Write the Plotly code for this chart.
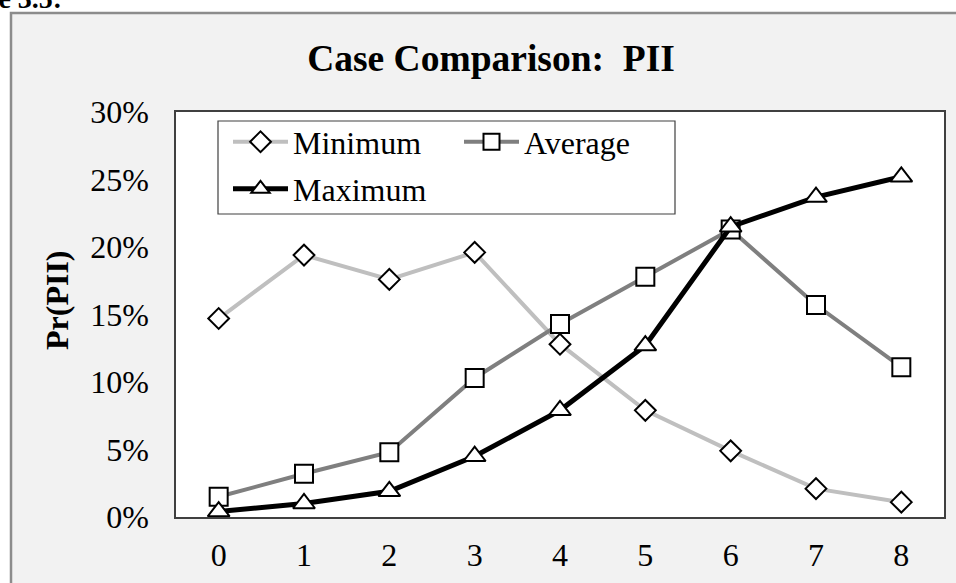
import plotly.graph_objects as go

# chart data
cases = ["0", "1", "2", "3", "4", "5", "6", "7", "8"]
minimum = [0.147, 0.194, 0.176, 0.196, 0.128, 0.079, 0.049, 0.021, 0.011]
average = [0.015, 0.032, 0.048, 0.103, 0.143, 0.178, 0.213, 0.157, 0.111]
maximum = [0.004, 0.010, 0.019, 0.045, 0.079, 0.127, 0.215, 0.237, 0.252]
y_ticks = [0, 0.05, 0.10, 0.15, 0.20, 0.25, 0.30]

W, H = 956, 583
L, R, T, B = 176, 12, 112, 66
PW, PH = W - L - R, H - T - B
FONT = "Liberation Serif"


def px(x):
    return (x - L) / PW


def py(y):
    return (H - B - y) / PH


fig = go.Figure()

series = [
    ("Minimum", minimum, "#bfbfbf", 4, "diamond", 16, "legend"),
    ("Average", average, "#7f7f7f", 4, "square", 18, "legend2"),
    ("Maximum", maximum, "#000000", 5, "triangle-up", 19, "legend3"),
]
for name, vals, col, lw, sym, size, leg in series:
    fig.add_trace(go.Scatter(
        x=list(range(len(cases))),
        y=vals,
        name=name,
        mode="lines+markers",
        line=dict(color=col, width=lw),
        marker=dict(symbol=sym, size=size, color="white",
                    line=dict(color="black", width=2)),
        legend=leg,
    ))

legend_style = dict(
    font=dict(family=FONT, size=32, color="black"),
    bgcolor="rgba(0,0,0,0)",
    borderwidth=0,
    itemwidth=55,
    xanchor="left",
    yanchor="middle",
)

fig.update_layout(
    width=W, height=H,
    margin=dict(l=L, r=R, t=T, b=B, autoexpand=False),
    paper_bgcolor="white",
    plot_bgcolor="white",
    showlegend=True,
    legend=dict(x=px(228), y=py(142), **legend_style),
    legend2=dict(x=px(459), y=py(142), **legend_style),
    legend3=dict(x=px(228), y=py(189), **legend_style),
    title=dict(text="<b>Case Comparison:  PII</b>", x=491 / W, y=1 - 58 / H,
               xanchor="center", yanchor="middle", xref="container", yref="container",
               font=dict(family=FONT, size=37.5, color="black")),
    font=dict(family=FONT, color="black"),
    shapes=[
        dict(type="rect", xref="paper", yref="paper", layer="below",
             x0=px(11), x1=px(970), y0=py(600), y1=py(13),
             fillcolor="#f2f2f2", line=dict(color="#8c8c8c", width=2.5)),
        dict(type="rect", xref="paper", yref="paper", layer="below",
             x0=0, x1=1, y0=0, y1=1, fillcolor="white", line=dict(width=0)),
        dict(type="rect", xref="paper", yref="paper", layer="below",
             x0=px(218), x1=px(675), y0=py(214), y1=py(121),
             fillcolor="white", line=dict(color="#404040", width=1.2)),
    ],
    annotations=[
        dict(text="<b>Pr(PII)</b>", textangle=-90, xref="paper", yref="paper",
             x=px(57), y=py(300), xanchor="center", yanchor="middle", showarrow=False,
             font=dict(family=FONT, size=32, color="black")),
        dict(text="<b>Figure 3.5:</b>", xref="paper", yref="paper",
             x=px(64), y=py(16), xanchor="right", yanchor="bottom", showarrow=False,
             font=dict(family=FONT, size=28, color="black")),
    ],
)

fig.update_xaxes(
    range=[-0.5, 8.5], tickmode="array", tickvals=list(range(len(cases))), ticktext=cases,
    showgrid=False, zeroline=False, showline=True, mirror=True, automargin=False,
    linecolor="#404040", linewidth=1.5,
    ticks="outside", ticklen=9, tickcolor="rgba(0,0,0,0)",
    tickfont=dict(family=FONT, size=32, color="black"),
)
fig.update_yaxes(
    range=[0, 0.30], tickmode="array", tickvals=y_ticks, tickformat=".0%",
    showgrid=False, zeroline=False, showline=True, mirror=True, automargin=False,
    linecolor="#404040", linewidth=1.5,
    ticks="outside", ticklen=19, tickcolor="rgba(0,0,0,0)",
    tickfont=dict(family=FONT, size=32, color="black"),
)

# the page's default body margin would shift the chart by 8px
fig.write_html("out.html", config={"displayModeBar": False},
               post_script="document.body.style.margin = '0px';")
